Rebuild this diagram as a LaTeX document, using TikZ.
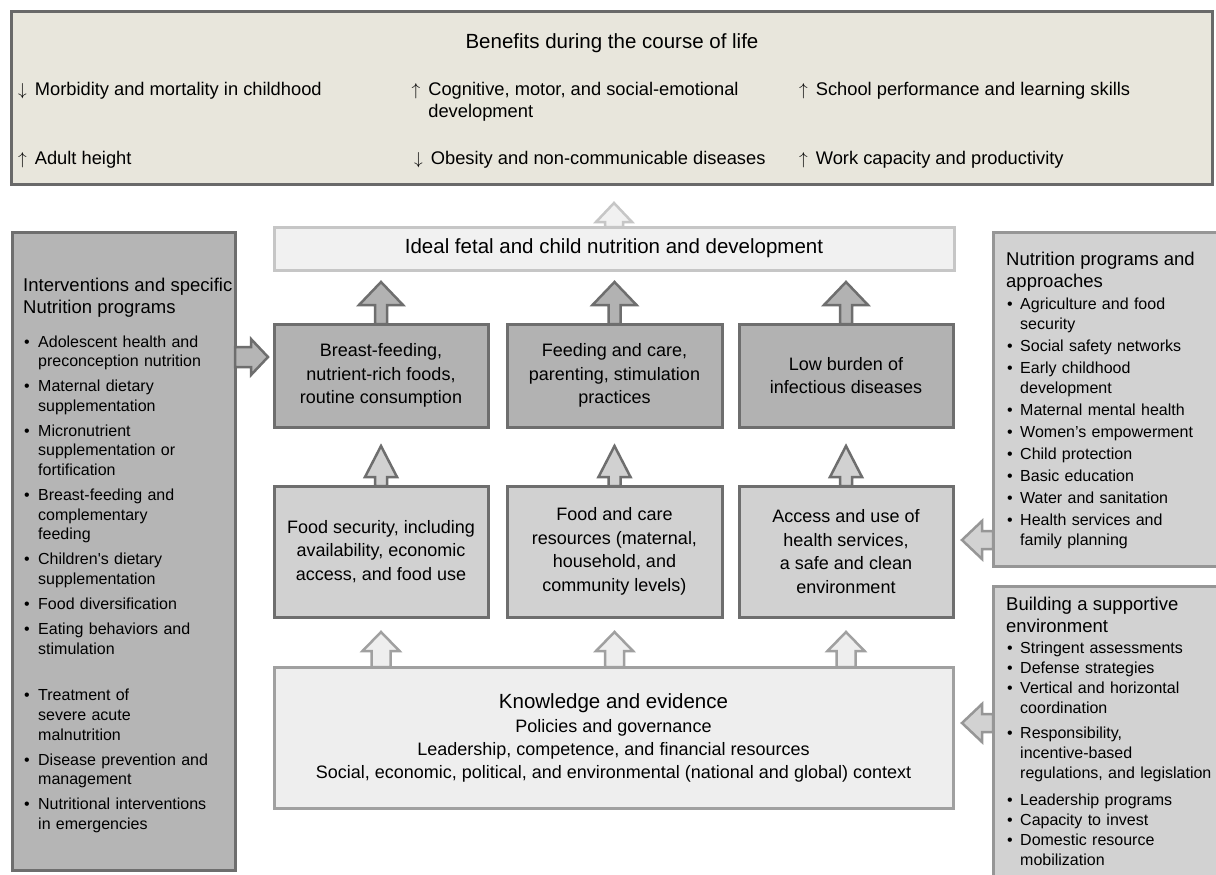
\documentclass[tikz,border=0pt]{standalone}
\usepackage{fontspec}
\setmainfont{Liberation Sans}
\usetikzlibrary{calc}

\definecolor{topfill}{RGB}{232,230,220}
\definecolor{topdraw}{RGB}{105,105,105}
\definecolor{lfill}{RGB}{181,181,181}
\definecolor{ldraw}{RGB}{110,110,110}
\definecolor{ifill}{RGB}{241,241,241}
\definecolor{idraw}{RGB}{198,198,198}
\definecolor{dfill}{RGB}{178,178,178}
\definecolor{ddraw}{RGB}{110,110,110}
\definecolor{mfill}{RGB}{209,209,209}
\definecolor{kfill}{RGB}{238,238,238}
\definecolor{kdraw}{RGB}{160,160,160}
\definecolor{rfill}{RGB}{210,210,210}
\definecolor{rdraw}{RGB}{150,150,150}

\newlength{\bind}
\newlength{\bgap}
\newcommand{\brk}{\hfil\break}
\newcommand{\bitm}[2][\bgap]{\par\vspace{#1}\hangindent=\bind\hangafter=1\noindent\makebox[\bind][l]{\hspace{1pt}\textbullet}#2}
\newcommand{\upa}{$\uparrow$\hspace{8pt}}
\newcommand{\dna}{$\downarrow$\hspace{8pt}}

\newcommand{\vblock}[6]{%
 \draw[#1] ($(#2)+(-#6,0)$) -- ($(#2)+(-#6,#3)$) -- ($(#2)+(-#5,#3)$) -- ($(#2)+(0,#4)$) -- ($(#2)+(#5,#3)$) -- ($(#2)+(#6,#3)$) -- ($(#2)+(#6,0)$) -- cycle;}
\newcommand{\hblock}[6]{%
 \draw[#1] ($(#2)+(0,-#6)$) -- ($(#2)+(#3,-#6)$) -- ($(#2)+(#3,-#5)$) -- ($(#2)+(#4,0)$) -- ($(#2)+(#3,#5)$) -- ($(#2)+(#3,#6)$) -- ($(#2)+(0,#6)$) -- cycle;}

\begin{document}
\begin{tikzpicture}[x=1pt,y=-1pt,
  box/.style={draw, line width=3pt, inner sep=0pt, outer sep=0pt, anchor=north west},
  topbox/.style={box, fill=topfill, draw=topdraw},
  leftbox/.style={box, fill=lfill, draw=ldraw},
  idealbox/.style={box, fill=ifill, draw=idraw, font=\fontsize{20.5}{24}\selectfont},
  darkbox/.style={box, fill=dfill, draw=ddraw, align=center, font=\fontsize{18}{23.5}\selectfont},
  midbox/.style={box, fill=mfill, draw=ddraw, align=center, font=\fontsize{18}{23.5}\selectfont},
  knowbox/.style={box, fill=kfill, draw=kdraw, align=center, font=\fontsize{18}{23}\selectfont},
  rightbox/.style={box, fill=rfill, draw=rdraw},
  benitem/.style={anchor=base west, inner sep=0pt, font=\fontsize{18.3}{22}\selectfont},
  listtxt/.style={anchor=north west, inner sep=0pt, align=left, font=\fontsize{16}{19.7}\selectfont},
  tarr/.style={fill=ifill, draw=idraw, line width=2.5pt},
  darr/.style={fill=dfill, draw=ddraw, line width=2.5pt},
  marr/.style={fill=mfill, draw=ddraw, line width=2.5pt},
  barr/.style={fill=kfill, draw=kdraw, line width=2.5pt},
  larr/.style={fill=lfill, draw=ldraw, line width=2.5pt},
  rarr/.style={fill=rfill, draw=rdraw, line width=2.5pt}
]
\useasboundingbox (0,0) rectangle (1216,875);
\clip (0,0) rectangle (1216,875);
\fill[white] (0,0) rectangle (1216,875);

% ---- top box
\node[topbox, minimum width=1201pt, minimum height=172pt] (T) at (11,12) {};
\node[anchor=base, inner sep=0pt, font=\fontsize{20.5}{24}\selectfont] (bt) at (612,49) {Benefits during the course of life};
\node[benitem] (b1) at (18,95.5) {\dna Morbidity and mortality in childhood};
\node[benitem] (b2) at (411.5,95.5) {\upa Cognitive, motor, and social-emotional};
\node[benitem] (b2b) at (411.5,117.5) {\phantom{\upa}development};
\node[benitem] (b3) at (799,95.5) {\upa School performance and learning skills};
\node[benitem] (b4) at (18,164.5) {\upa Adult height};
\node[benitem] (b5) at (414,164.5) {\dna Obesity and non-communicable diseases};
\node[benitem] (b6) at (799,164.5) {\upa Work capacity and productivity};

% ---- boxes
\node[leftbox, minimum width=223pt, minimum height=638pt] (L) at (12,232) {};
\node[idealbox, minimum width=680pt, minimum height=43pt] (I) at (274,227) {Ideal fetal and child nutrition and development};
\node[darkbox, minimum width=214pt, minimum height=103pt] (d1) at (274,324) {Breast-feeding,\\nutrient-rich foods,\\routine consumption};
\node[darkbox, minimum width=215pt, minimum height=103pt] (d2) at (507,324) {Feeding and care,\\parenting, stimulation\\practices};
\node[darkbox, minimum width=214pt, minimum height=103pt] (d3) at (739,324) {Low burden of\\infectious diseases};
\node[midbox, minimum width=214pt, minimum height=131pt] (l1) at (274,486) {Food security, including\\availability, economic\\access, and food use};
\node[midbox, minimum width=215pt, minimum height=131pt] (l2) at (507,486) {Food and care\\resources (maternal,\\household, and\\community levels)};
\node[midbox, minimum width=214pt, minimum height=131pt] (l3) at (739,486) {Access and use of\\health services,\\a safe and clean\\environment};
\node[knowbox, minimum width=679pt, minimum height=141pt] (K) at (274,667) {{\fontsize{20.5}{24}\selectfont Knowledge and evidence}\\[1pt]Policies and governance\\Leadership, competence, and financial resources\\Social, economic, political, and environmental (national and global) context};
\node[rightbox, minimum width=230pt, minimum height=334pt] (R1) at (993,232) {};
\node[rightbox, minimum width=230pt, minimum height=300pt] (R2) at (993,586) {};

% ---- list texts
\node[listtxt, text width=215pt] (Ltx) at (23,277.5) {%
\setlength{\parskip}{0pt}\setlength{\parindent}{0pt}%
{\fontsize{18.5}{22}\selectfont\rule{0pt}{14pt}Interventions and specific\brk Nutrition programs\par}%
\setlength{\bind}{15pt}\setlength{\bgap}{5.2pt}\vspace{8.4pt}%
\bitm{Adolescent health and\brk preconception nutrition}%
\bitm{Maternal dietary\brk supplementation}%
\bitm{Micronutrient\brk supplementation or\brk fortification}%
\bitm{Breast-feeding and\brk complementary\brk feeding}%
\bitm{Children\textquotesingle s dietary\brk supplementation}%
\bitm{Food diversification}%
\bitm{Eating behaviors and\brk stimulation}%
\bitm[27.2pt]{Treatment of\brk severe acute\brk malnutrition}%
\bitm{Disease prevention and\brk management}%
\bitm{Nutritional interventions\brk in emergencies}\par};

\node[listtxt, text width=210pt, font=\fontsize{16}{20}\selectfont] (R1tx) at (1006,251.5) {%
\setlength{\parskip}{0pt}\setlength{\parindent}{0pt}%
{\fontsize{18.5}{21.5}\selectfont\rule{0pt}{14pt}Nutrition programs and\brk approaches\par}%
\setlength{\bind}{14pt}\setlength{\bgap}{2pt}%
\bitm{Agriculture and food\brk security}%
\bitm{Social safety networks}%
\bitm{Early childhood\brk development}%
\bitm{Maternal mental health}%
\bitm{Women’s empowerment}%
\bitm{Child protection}%
\bitm{Basic education}%
\bitm{Water and sanitation}%
\bitm{Health services and\brk family planning}\par};

\node[listtxt, text width=210pt, font=\fontsize{16}{20}\selectfont] (R2tx) at (1006,596.5) {%
\setlength{\parskip}{0pt}\setlength{\parindent}{0pt}%
{\fontsize{18.5}{22}\selectfont\rule{0pt}{14pt}Building a supportive\brk environment\par}%
\setlength{\bind}{14pt}\setlength{\bgap}{0pt}%
\bitm[0.5pt]{Stringent assessments}%
\bitm{Defense strategies}%
\bitm{Vertical and horizontal\brk coordination}%
\bitm[5pt]{Responsibility,\brk incentive-based\brk regulations, and legislation}%
\bitm[7pt]{Leadership programs}%
\bitm{Capacity to invest}%
\bitm{Domestic resource\brk mobilization}\par};

% ---- block arrows
\vblock{tarr}{I.north}{-5}{-24}{18}{9}
\vblock{darr}{d1.north}{-19}{-42}{22}{6}
\vblock{darr}{d2.north}{-19}{-42}{22}{6}
\vblock{darr}{d3.north}{-19}{-42}{22}{6}
\vblock{marr}{l1.north}{-9}{-40}{16}{6}
\vblock{marr}{l2.north}{-9}{-40}{16}{6}
\vblock{marr}{l3.north}{-9}{-40}{16}{6}
\coordinate (kb1) at (l1.south |- K.north);
\coordinate (kb2) at (l2.south |- K.north);
\coordinate (kb3) at (l3.south |- K.north);
\vblock{barr}{kb1}{-16}{-35}{18.5}{9.5}
\vblock{barr}{kb2}{-16}{-35}{18.5}{9.5}
\vblock{barr}{kb3}{-16}{-35}{18.5}{9.5}
\coordinate (la) at ($(L.north east)+(0,125)$);
\hblock{larr}{la}{16}{33}{18}{10}
\coordinate (ra1) at ($(R1.south west)+(0,-26)$);
\hblock{rarr}{ra1}{-11}{-31}{19}{9}
\coordinate (ra2) at ($(R2.north west)+(0,137)$);
\hblock{rarr}{ra2}{-11}{-31}{19}{9}
\end{tikzpicture}
\end{document}
